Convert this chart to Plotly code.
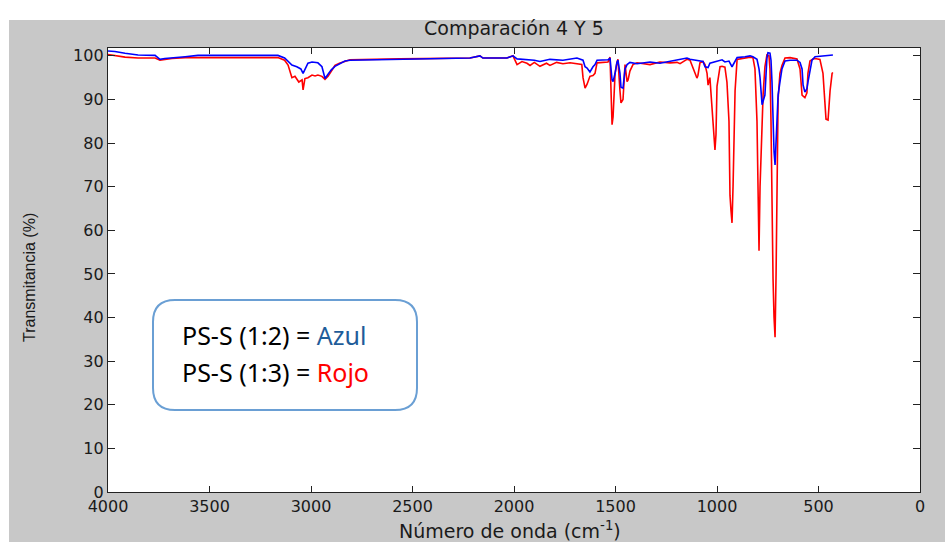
import plotly.graph_objects as go

# ---------------- data ----------------
wn_azul = [4000, 3966, 3916, 3852, 3768, 3744, 3720, 3685, 3620, 3557, 3163, 3130, 3113, 3094,
           3070, 3050, 3039, 3030, 3015, 2995, 2966, 2946, 2931, 2916, 2900, 2882, 2860, 2833,
           2808, 2562, 2217, 2168, 2153, 2035, 2005, 1985, 1961, 1936, 1900, 1872, 1823, 1759,
           1724, 1690, 1660, 1650, 1640, 1626, 1611, 1601, 1591, 1537, 1527, 1522, 1517, 1512,
           1502, 1493, 1488, 1478, 1473, 1463, 1453, 1443, 1429, 1394, 1330, 1281, 1232, 1197,
           1148, 1133, 1099, 1084, 1069, 1059, 1044, 1035, 1000, 975, 961, 941, 926, 911, 901,
           862, 837, 823, 803, 793, 788, 778, 773, 764, 754, 749, 739, 734, 729, 724, 719, 714,
           709, 704, 699, 690, 680, 665, 640, 606, 591, 581, 576, 567, 557, 552, 542, 532, 517,
           493, 468, 443, 429]
t_azul = [101.1, 101.0, 100.6, 100.2, 100.1, 99.2, 99.4, 99.6, 99.8, 100.1, 100.1, 99.5, 98.7, 97.9,
          97.5, 97.0, 96.0, 96.8, 98.3, 98.6, 98.4, 97.5, 94.8, 95.8, 96.8, 97.6, 98.2, 98.8,
          99.0, 99.2, 99.5, 100.0, 99.5, 99.5, 100.0, 99.3, 99.2, 99.0, 99.0, 98.7, 99.2, 99.0,
          99.2, 99.5, 99.0, 97.5, 97.2, 96.3, 97.5, 98.0, 99.0, 99.1, 99.5, 97.0, 94.5, 94.1,
          96.0, 98.5, 99.0, 96.0, 92.8, 92.6, 97.0, 98.0, 98.5, 98.2, 98.6, 98.3, 98.7, 99.0,
          99.5, 99.2, 98.9, 98.7, 98.7, 97.5, 97.3, 98.3, 98.8, 99.1, 98.6, 98.8, 97.5, 99.0, 99.6,
          99.8, 100.0, 99.8, 99.2, 97.0, 95.0, 88.8, 89.5, 91.0, 99.5, 100.7, 100.6, 99.0, 94.0,
          85.0, 78.0, 75.0, 80.0, 88.0, 91.0, 94.0, 97.0, 98.8, 99.0, 99.0, 98.5, 97.0, 93.3,
          91.7, 92.5, 94.0, 97.0, 99.0, 99.8, 99.9, 100.0, 100.2, 100.2]

wn_rojo = [4000, 3966, 3916, 3852, 3768, 3744, 3720, 3685, 3620, 3557, 3163, 3130, 3113, 3094,
           3079, 3060, 3044, 3039, 3030, 3015, 2995, 2980, 2966, 2946, 2931, 2916, 2900, 2882,
           2860, 2833, 2808, 2562, 2217, 2168, 2153, 2035, 2005, 1985, 1961, 1936, 1921, 1900,
           1872, 1840, 1823, 1790, 1759, 1724, 1690, 1666, 1660, 1650, 1640, 1626, 1611, 1601,
           1591, 1537, 1527, 1522, 1517, 1512, 1502, 1493, 1488, 1478, 1473, 1463, 1453, 1443,
           1438, 1429, 1414, 1394, 1330, 1281, 1232, 1197, 1182, 1148, 1133, 1108, 1099, 1094,
           1084, 1069, 1059, 1049, 1044, 1035, 1025, 1015, 1010, 1005, 1000, 985, 975, 961, 951,
           941, 936, 931, 926, 921, 911, 901, 862, 837, 823, 813, 803, 798, 793, 788, 778, 773,
           764, 754, 744, 739, 734, 729, 724, 719, 714, 709, 704, 699, 690, 680, 665, 640, 606,
           591, 581, 576, 567, 557, 552, 542, 527, 517, 493, 478, 468, 463, 453, 443, 433, 429]
t_rojo = [100.3, 100.0, 99.7, 99.5, 99.5, 99.0, 99.2, 99.4, 99.6, 99.6, 99.6, 99.0, 97.9, 95.0,
          95.3, 94.0, 94.5, 92.2, 94.8, 95.0, 95.6, 95.4, 95.6, 95.3, 94.6, 95.3, 96.5, 97.8,
          98.3, 98.7, 99.1, 99.3, 99.5, 100.0, 99.5, 99.5, 100.0, 98.0, 98.7, 98.3, 97.8, 98.5,
          97.6, 98.3, 97.8, 98.5, 98.2, 98.4, 98.2, 98.0, 95.0, 92.6, 93.5, 95.3, 95.5, 96.0,
          98.4, 98.6, 99.7, 90.0, 84.2, 86.0, 96.0, 98.5, 99.2, 92.0, 89.2, 90.0, 98.0, 94.1,
          94.5, 96.5, 98.0, 98.4, 98.0, 98.6, 98.4, 98.5, 98.2, 99.2, 99.0, 96.0, 94.9, 95.5,
          98.4, 98.7, 98.0, 96.0, 93.3, 95.0, 88.0, 80.0, 78.4, 82.0, 93.0, 97.5, 97.6, 97.4, 94.0,
          85.0, 68.0, 64.5, 61.7, 70.0, 92.0, 99.2, 99.6, 99.7, 99.6, 97.0, 85.0, 70.0, 55.3, 70.0,
          86.0, 91.0, 97.5, 100.2, 100.0, 97.0, 85.0, 60.0, 49.0, 40.0, 35.5, 50.0, 75.0, 90.0,
          96.0, 97.8, 99.5, 99.6, 99.3, 97.0, 91.0, 90.8, 90.4, 91.5, 96.0, 98.8, 99.3, 99.4,
          99.2, 96.0, 87.0, 85.5, 85.3, 92.0, 96.0, 96.2]

x_ticks = [4000, 3500, 3000, 2500, 2000, 1500, 1000, 500, 0]
y_ticks = [0, 10, 20, 30, 40, 50, 60, 70, 80, 90, 100]

titulo = "Comparación 4 Y 5"
x_titulo = "Número de onda (cm<sup>-1</sup>)"
y_titulo = "Transmitancia (%)"

# ---------------- layout geometry (pixels) ----------------
W, H = 945, 542
L, R, T, B = 108, 25, 48, 50
PW, PH = W - L - R, H - T - B
GRAY = "#c8c8c8"


def px(x):
    return (x - L) / PW


def py(y):
    return (H - B - y) / PH


fig = go.Figure()
fig.add_trace(go.Scatter(x=wn_rojo, y=t_rojo, mode="lines",
                         line=dict(color="#ff0000", width=1.6), name="Rojo"))
fig.add_trace(go.Scatter(x=wn_azul, y=t_azul, mode="lines",
                         line=dict(color="#0000ff", width=1.6), name="Azul"))

tick_font = dict(family="DejaVu Sans", size=16, color="#1a1a1a")

fig.update_layout(
    width=W, height=H,
    margin=dict(l=L, r=R, t=T, b=B, pad=0),
    paper_bgcolor=GRAY,
    plot_bgcolor="white",
    showlegend=False,
    xaxis=dict(range=[4000, 0], tickvals=x_ticks, ticks="inside", ticklen=6,
               tickcolor="#222", showline=True, linecolor="#222", linewidth=1.3,
               mirror="ticks", showgrid=False, zeroline=False, tickfont=tick_font),
    yaxis=dict(range=[0, 101.8], tickvals=y_ticks, ticks="inside", ticklen=7,
               tickcolor="#222", showline=True, linecolor="#222", linewidth=1.3,
               mirror="ticks", showgrid=False, zeroline=False, tickfont=tick_font),
)

# white strips outside the gray figure area (top and left edges)
fig.add_shape(type="rect", xref="paper", yref="paper", layer="below",
              x0=px(0), x1=px(W), y0=py(20), y1=py(0),
              fillcolor="white", line=dict(width=0))
fig.add_shape(type="rect", xref="paper", yref="paper", layer="below",
              x0=px(0), x1=px(9), y0=py(H), y1=py(0),
              fillcolor="white", line=dict(width=0))

# title and axis titles
fig.add_annotation(text=titulo, xref="paper", yref="paper", x=0.5, y=py(28),
                   xanchor="center", yanchor="middle", showarrow=False,
                   font=dict(family="DejaVu Sans", size=19, color="#1a1a1a"))
fig.add_annotation(text=x_titulo, xref="paper", yref="paper", x=px(510), y=py(530),
                   xanchor="center", yanchor="middle", showarrow=False,
                   font=dict(family="DejaVu Sans", size=19, color="#1a1a1a"))
fig.add_annotation(text=y_titulo, xref="paper", yref="paper", x=px(29), y=py(278),
                   xanchor="center", yanchor="middle", showarrow=False, textangle=-90,
                   font=dict(family="Liberation Sans", size=16, color="#1a1a1a"))

# rounded legend box
bx0, bx1, by0, by1, r = 153, 417, 300, 410, 22


def rounded_path(x0, x1, y0, y1, r):
    return (f"M {px(x0 + r)},{py(y0)} L {px(x1 - r)},{py(y0)} "
            f"Q {px(x1)},{py(y0)} {px(x1)},{py(y0 + r)} "
            f"L {px(x1)},{py(y1 - r)} Q {px(x1)},{py(y1)} {px(x1 - r)},{py(y1)} "
            f"L {px(x0 + r)},{py(y1)} Q {px(x0)},{py(y1)} {px(x0)},{py(y1 - r)} "
            f"L {px(x0)},{py(y0 + r)} Q {px(x0)},{py(y0)} {px(x0 + r)},{py(y0)} Z")


fig.add_shape(type="path", xref="paper", yref="paper", path=rounded_path(bx0, bx1, by0, by1, r),
              fillcolor="white", line=dict(color="#6a9fd4", width=2))

leg_font = dict(family="Noto Sans", size=25, color="black")
fig.add_annotation(text='PS-S (1:2) = <span style="color:#1f5c99">Azul</span>',
                   xref="paper", yref="paper", x=px(180), y=py(335),
                   xanchor="left", yanchor="middle", showarrow=False, font=leg_font)
fig.add_annotation(text='PS-S (1:3) = <span style="color:#ff0000">Rojo</span>',
                   xref="paper", yref="paper", x=px(180), y=py(372),
                   xanchor="left", yanchor="middle", showarrow=False, font=leg_font)

fig.write_html("out.html")
